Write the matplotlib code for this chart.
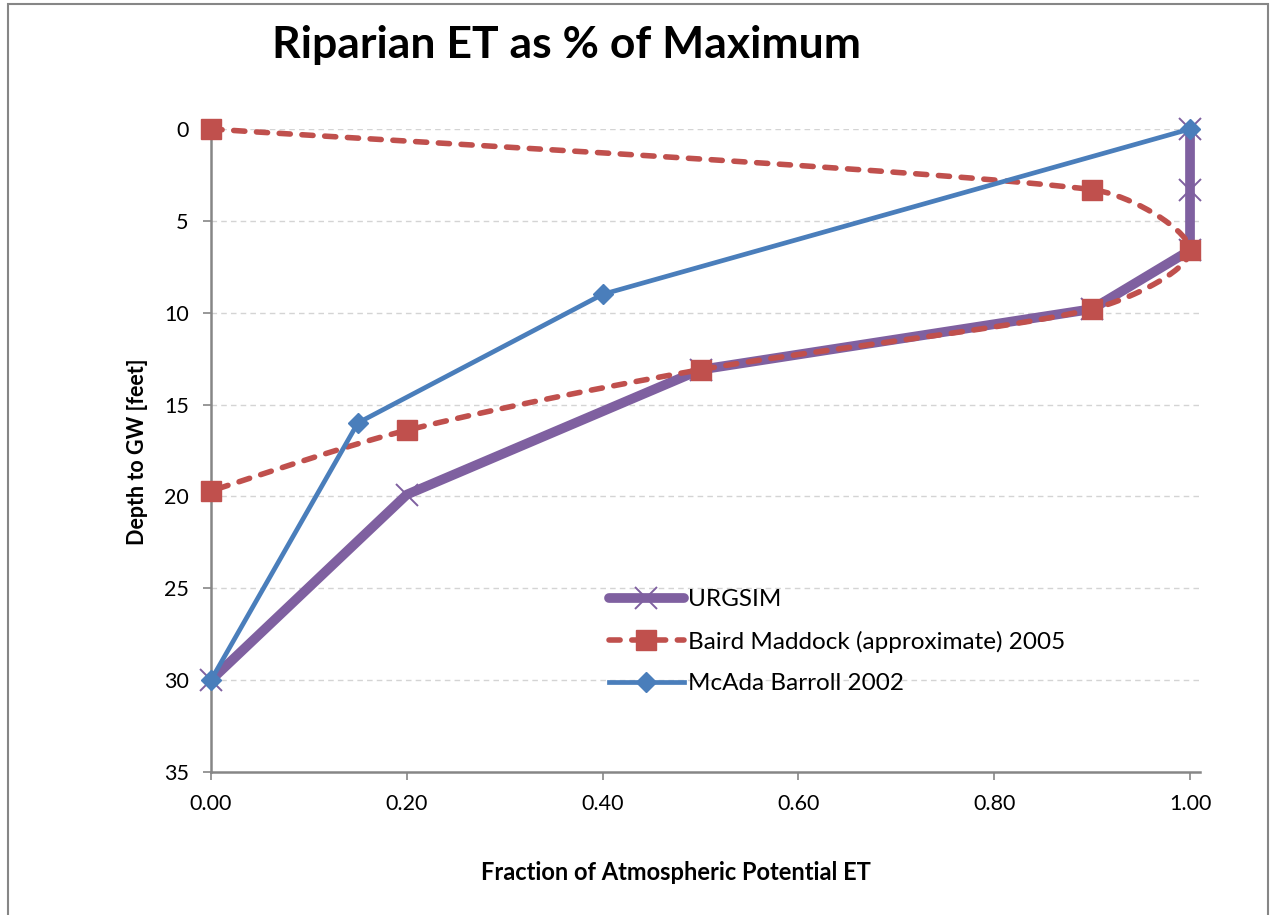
import numpy as np
import matplotlib
matplotlib.use("Agg")
import matplotlib.pyplot as plt
from matplotlib.patches import Rectangle

plt.rcParams['font.family'] = ['Lato', 'DejaVu Sans']

# data
urgsim_x = [1.0, 1.0, 1.0, 0.9, 0.5, 0.2, 0.0]
urgsim_y = [0.0, 3.3, 6.6, 9.8, 13.1, 19.9, 30.0]

baird_x = [0.0, 0.9, 1.0, 0.9, 0.5, 0.2, 0.0]
baird_y = [0.0, 3.3, 6.6, 9.8, 13.1, 16.4, 19.7]

mcada_x = [1.0, 0.4, 0.15, 0.0]
mcada_y = [0.0, 9.0, 16.0, 30.0]

x_ticks = [0.0, 0.2, 0.4, 0.6, 0.8, 1.0]
y_ticks = [0, 5, 10, 15, 20, 25, 30, 35]

purple = '#7F60A0'
red = '#C0504D'
blue = '#4A7EBB'
axis_gray = '#868686'


def smooth(ax, xs, ys, n=40):
    # excel-like smoothed line: bezier through the points in display space,
    # control arms capped so the curve does not overshoot
    pts = ax.transData.transform(np.column_stack([xs, ys]))
    p = np.vstack([pts[0], pts, pts[-1]])
    out = []
    for i in range(1, len(p) - 2):
        p0, p1, p2, p3 = p[i - 1], p[i], p[i + 1], p[i + 2]
        seglen = np.linalg.norm(p2 - p1)
        a1 = (p2 - p0) / 6.0
        a2 = (p3 - p1) / 6.0
        cap = seglen / 3.0
        if np.linalg.norm(a1) > cap:
            a1 = a1 / np.linalg.norm(a1) * cap
        if np.linalg.norm(a2) > cap:
            a2 = a2 / np.linalg.norm(a2) * cap
        c1 = p1 + a1
        c2 = p2 - a2
        t = np.linspace(0, 1, n)[:, None]
        seg = ((1 - t) ** 3) * p1 + 3 * ((1 - t) ** 2) * t * c1 + 3 * (1 - t) * t ** 2 * c2 + t ** 3 * p2
        out.append(seg if i == 1 else seg[1:])
    out = np.vstack(out)
    back = ax.transData.inverted().transform(out)
    return back[:, 0], back[:, 1]


fig = plt.figure(figsize=(12.71, 9.15), dpi=100)
fig.patches.append(Rectangle((0.006, -0.01), 0.992, 1.006, transform=fig.transFigure,
                             fill=False, edgecolor=axis_gray, linewidth=1.5))
ax = fig.add_axes([211 / 1271, 1 - 772 / 915, (1200 - 211) / 1271, (772 - 129) / 915])

ax.set_xlim(0, 1.0102)
ax.set_ylim(35, 0)

ax.set_xticks(x_ticks)
ax.set_xticklabels(['%.2f' % v for v in x_ticks])
ax.set_yticks(y_ticks)
ax.tick_params(axis='both', direction='out', length=6, width=1.2, color=axis_gray,
               labelsize=15.5, pad=10)
for s in ['top', 'right']:
    ax.spines[s].set_visible(False)
for s in ['left', 'bottom']:
    ax.spines[s].set_color(axis_gray)
    ax.spines[s].set_linewidth(1.8)

for yv in y_ticks[:-1]:
    ax.axhline(yv, color='#D4D4D4', linestyle=(0, (4, 3)), linewidth=1.0, zorder=0)

ax.plot(urgsim_x, urgsim_y, color=purple, linewidth=7, marker='x', markersize=16,
        markeredgewidth=1.4, markeredgecolor=purple, solid_capstyle='round',
        solid_joinstyle='round', label='URGSIM', zorder=3, clip_on=False)

bx, by = smooth(ax, baird_x, baird_y)
ax.plot(bx, by, color=red, linewidth=4, linestyle=(0, (2, 2.1)), dash_capstyle='round',
        zorder=4, clip_on=False)
ax.plot(baird_x, baird_y, linestyle='none', marker='s', markersize=14.5, color=red,
        markeredgecolor=red, zorder=5, clip_on=False)
ax.plot([], [], color=red, linewidth=4, linestyle=(0, (2, 2.1)), dash_capstyle='round',
        marker='s', markersize=14.5, label='Baird Maddock (approximate) 2005')

ax.plot(mcada_x, mcada_y, color=blue, linewidth=3.4, marker='D', markersize=10,
        label='McAda Barroll 2002', zorder=6, clip_on=False)

leg = ax.legend(loc='upper left', bbox_to_anchor=(0.38, 0.318), frameon=False,
                fontsize=17.5, handlelength=3.1, labelspacing=0.84, handletextpad=0.15)

fig.text(567 / 1271, 1 - 45 / 915, 'Riparian ET as % of Maximum', ha='center', va='center',
         fontsize=32, fontweight='bold')
fig.text(676 / 1271, 1 - 872 / 915, 'Fraction of Atmospheric Potential ET', ha='center',
         va='center', fontsize=17, fontweight='bold')
fig.text(137 / 1271, 1 - 452 / 915, 'Depth to GW [feet]', ha='center', va='center',
         rotation=90, fontsize=15.5, fontweight='bold')

fig.savefig('out.png', dpi=100)
